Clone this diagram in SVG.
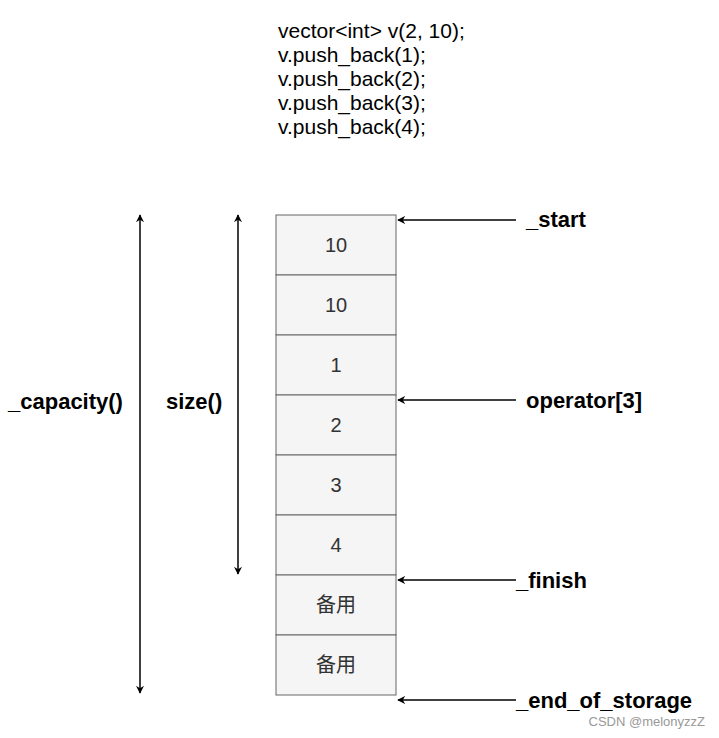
<svg xmlns="http://www.w3.org/2000/svg" width="719" height="738" viewBox="0 0 719 738">
<style>
text{font-family:"Liberation Sans","Noto Sans CJK SC",Arial,sans-serif}
.code{font-size:21px;fill:#000}
.cell rect{fill:#f5f5f5;stroke:#666;stroke-width:1}
.cell text{font-size:20px;fill:#333;text-anchor:middle}
.lbl{font-size:22px;font-weight:bold;fill:#000}
.ln{stroke:#000;stroke-width:1.5;fill:none}
</style>
<defs>
<marker id="ah" viewBox="0 0 10 10" refX="9" refY="5" markerWidth="8" markerHeight="8" orient="auto-start-reverse" markerUnits="userSpaceOnUse"><path d="M0,0 L10,5 L0,10 L3,5 Z" fill="#000"/></marker>
</defs>
<rect width="719" height="738" fill="#fff"/>
<g id="code">
<text class="code" x="278" y="38">vector&lt;int&gt; v(2, 10);</text>
<text class="code" x="278" y="62">v.push_back(1);</text>
<text class="code" x="278" y="86">v.push_back(2);</text>
<text class="code" x="278" y="110">v.push_back(3);</text>
<text class="code" x="278" y="134">v.push_back(4);</text>
</g>
<g id="cell1" class="cell"><rect x="276" y="215" width="120" height="60"/><text x="336" y="252">10</text></g>
<g id="cell2" class="cell"><rect x="276" y="275" width="120" height="60"/><text x="336" y="312">10</text></g>
<g id="cell3" class="cell"><rect x="276" y="335" width="120" height="60"/><text x="336" y="372">1</text></g>
<g id="cell4" class="cell"><rect x="276" y="395" width="120" height="60"/><text x="336" y="432">2</text></g>
<g id="cell5" class="cell"><rect x="276" y="455" width="120" height="60"/><text x="336" y="492">3</text></g>
<g id="cell6" class="cell"><rect x="276" y="515" width="120" height="60"/><text x="336" y="552">4</text></g>
<g id="cell7" class="cell"><rect x="276" y="575" width="120" height="60"/><text x="336" y="612">备用</text></g>
<g id="cell8" class="cell"><rect x="276" y="635" width="120" height="60"/><text x="336" y="672">备用</text></g>
<g id="labels">
<text class="lbl" x="526" y="227">_start</text>
<text class="lbl" x="526" y="408">operator[3]</text>
<text class="lbl" x="516" y="588">_finish</text>
<text class="lbl" x="516" y="708">_end_of_storage</text>
<text class="lbl" x="8" y="409">_capacity()</text>
<text class="lbl" x="166" y="409">size()</text>
</g>
<g id="connectors">
<line class="ln" x1="516" y1="220" x2="398" y2="220" marker-end="url(#ah)"/>
<line class="ln" x1="516" y1="400" x2="398" y2="400" marker-end="url(#ah)"/>
<line class="ln" x1="516" y1="580" x2="398" y2="580" marker-end="url(#ah)"/>
<line class="ln" x1="516" y1="700" x2="398" y2="700" marker-end="url(#ah)"/>
<line class="ln" x1="140" y1="215" x2="140" y2="693" marker-start="url(#ah)" marker-end="url(#ah)"/>
<line class="ln" x1="238" y1="215" x2="238" y2="574" marker-start="url(#ah)" marker-end="url(#ah)"/>
</g>
<text x="705" y="726" font-size="13" fill="#999" text-anchor="end">CSDN @melonyzzZ</text>
</svg>
